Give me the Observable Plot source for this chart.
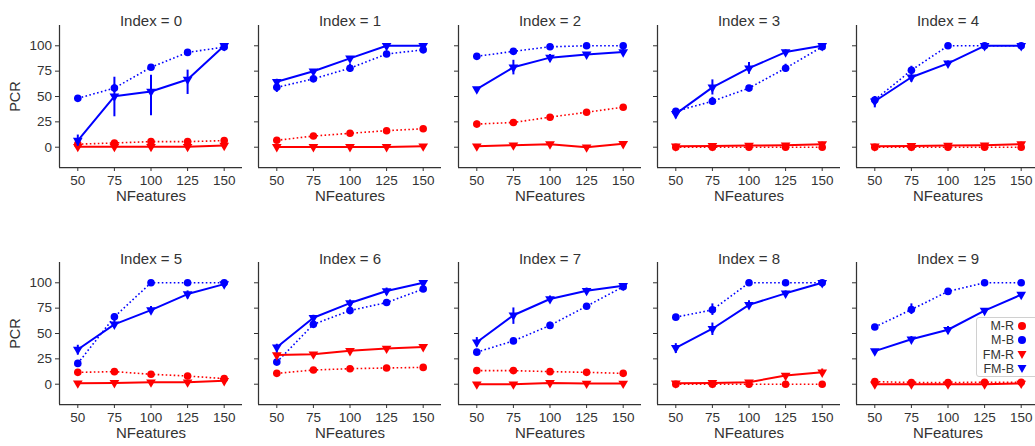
<!DOCTYPE html>
<html>
<head>
<meta charset="utf-8">
<script src="https://cdn.jsdelivr.net/npm/d3@7"></script>
<script src="https://cdn.jsdelivr.net/npm/@observablehq/plot@0.6"></script>
<style>
  html, body { margin: 0; padding: 0; background: white; }
  #chart { position: relative; width: 1035px; height: 446px; overflow: hidden; font-family: "Liberation Sans", Arial, sans-serif; }
  #chart svg { position: absolute; overflow: visible; }
  .legend { position: absolute; left: 976px; top: 317px; width: 70px; height: 60px; border: 1px solid #d0d0d0; border-radius: 3px; background: rgba(255,255,255,0.85); box-sizing: border-box; padding-top: 0.5px; }
  .legend .row { display: flex; align-items: center; height: 14.5px; }
  .legend .lab { width: 37px; text-align: right; font-size: 12.5px; line-height: 14.5px; color: #333; }
  .legend svg { position: static !important; margin-left: 3px; }
</style>
</head>
<body>
<div id="chart"></div>
<script>
const nfeatures = [50, 75, 100, 125, 150];
const panelIndex = [0, 1, 2, 3, 4, 5, 6, 7, 8, 9];
const seriesLabels = ["M-R", "M-B", "FM-R", "FM-B"];
const yTicks = [0, 25, 50, 75, 100];

const mR = [
  [3, 4.2, 5.5, 5.5, 6.5],
  [6.8, 11, 13.7, 16.3, 18.2],
  [22.8, 24.4, 29.6, 34.5, 39.4],
  [0, 0, 0, 0, 0],
  [0, 0, 0, 0, 0],
  [11.7, 12.4, 9.8, 8.1, 5.5],
  [10.7, 14, 15.3, 16, 16.6],
  [13.4, 13.4, 12.4, 11.7, 10.7],
  [0, 0, 0, 0, 0],
  [2.6, 1.6, 1.6, 2, 2]
];
const mB = [
  [48.2, 58.3, 78.8, 93.5, 98.7],
  [59, 67.4, 77.9, 91.9, 96],
  [89.6, 94.5, 99, 100, 100],
  [35.5, 45.3, 58.3, 77.9, 99],
  [46.6, 75.9, 100, 100, 100],
  [20.5, 66.4, 100, 100, 100],
  [21.8, 59, 72.6, 80.5, 93.8],
  [31.6, 42.7, 58, 76.9, 96.1],
  [66.1, 73.3, 100, 100, 100],
  [56.4, 73.6, 91.5, 100, 100]
];
const fmR = [
  [0.5, 0.5, 0.5, 0.5, 1.6],
  [0.3, 0.3, 0.3, 0.3, 1],
  [1, 2, 3, 0, 3.3],
  [1, 1.3, 1.6, 2, 3],
  [1, 1.3, 1.6, 2, 3],
  [1, 1.3, 2, 2, 3.3],
  [28.7, 29.6, 32.9, 35.2, 36.8],
  [0, 0, 1.3, 0.7, 0.7],
  [1, 1.3, 2, 8.5, 11.7],
  [0, 0, 0, 0, 0.7]
];
const fmB = [
  [6.5, 50.2, 55, 66.8, 100],
  [64.5, 74.9, 87.6, 100, 100],
  [57.3, 78.8, 88.3, 91.5, 93.8],
  [32.9, 59, 77.9, 93.8, 100],
  [45.3, 69, 82.7, 100, 100],
  [34.2, 59, 73, 88.9, 98.7],
  [36.5, 65.5, 80, 91.9, 100],
  [41.4, 68, 84, 92.2, 97.1],
  [35.8, 54.7, 78.2, 89.6, 100],
  [32.6, 44.3, 53.7, 72.6, 88.3]
];
// error bars: [panel, series, nfeatures, low, high]
const errorBars = [
  [0, "FM-B", 50, 1, 12], [0, "FM-B", 75, 30, 69], [0, "FM-B", 100, 31, 71], [0, "FM-B", 125, 52, 76], [0, "FM-B", 150, 98, 100],
  [0, "M-B", 75, 54, 62], [0, "FM-R", 150, 0, 3],
  [1, "M-B", 50, 54, 62], [1, "M-B", 100, 73.6, 82], [1, "FM-B", 50, 61, 67], [1, "M-B", 150, 94, 98],
  [1, "M-R", 50, 3.6, 9.4], [1, "M-R", 100, 10.7, 16.3],
  [2, "FM-B", 75, 71.3, 85.7], [2, "FM-B", 100, 83.7, 91.5], [2, "FM-B", 150, 90.5, 97],
  [2, "M-R", 50, 19.5, 25.7], [2, "FM-R", 150, 1, 5],
  [3, "FM-B", 50, 28, 37.8], [3, "FM-B", 75, 51.5, 66.4], [3, "FM-B", 100, 72, 83.4], [3, "FM-B", 125, 92, 96],
  [3, "M-B", 50, 33, 38], [3, "M-B", 75, 41.4, 49.2], [3, "M-B", 125, 74, 81.8], [3, "FM-R", 150, 0, 5],
  [4, "FM-B", 50, 38.8, 50], [4, "FM-B", 75, 64, 73], [4, "FM-B", 100, 78.5, 85],
  [4, "M-B", 75, 72, 79.8], [4, "FM-R", 150, 0, 5],
  [5, "M-B", 75, 63.5, 69.4], [5, "FM-B", 50, 28.7, 38.4], [5, "FM-B", 75, 55.7, 62.9], [5, "FM-B", 100, 68.7, 76.5],
  [5, "FM-B", 125, 84, 92], [5, "FM-B", 150, 97, 100], [5, "FM-R", 50, 0, 2], [5, "FM-R", 125, 0, 4], [5, "FM-R", 150, 0, 5],
  [6, "FM-B", 50, 31, 39.4], [6, "FM-B", 75, 61, 68], [6, "FM-B", 100, 76.5, 83], [6, "FM-B", 125, 88, 94.8],
  [6, "FM-R", 50, 26, 31],
  [7, "FM-B", 50, 36.8, 46], [7, "FM-B", 75, 59, 75.2], [7, "FM-B", 100, 80.5, 87], [7, "FM-B", 125, 89, 94.8],
  [7, "M-B", 100, 54.7, 61.2],
  [8, "M-B", 75, 67.8, 79.2], [8, "FM-B", 50, 30.3, 40], [8, "FM-B", 75, 48, 60.3], [8, "FM-B", 100, 74.3, 82.4],
  [8, "FM-B", 125, 87, 92], [8, "FM-R", 125, 6, 10], [8, "FM-R", 150, 9, 15],
  [9, "M-B", 75, 68.7, 79.2], [9, "FM-B", 75, 41, 47], [9, "FM-B", 100, 49, 57]
];

const seriesValues = {"M-R": mR, "M-B": mB, "FM-R": fmR, "FM-B": fmB};
const seriesColor = {"M-R": "#ff0000", "M-B": "#0000ff", "FM-R": "#ff0000", "FM-B": "#0000ff"};
const seriesDotted = {"M-R": true, "M-B": true, "FM-R": false, "FM-B": false};
const seriesSymbol = {"M-R": "circle", "M-B": "circle", "FM-R": "triangle", "FM-B": "triangle"};

const chart = document.getElementById("chart");
const frameW = 183, frameH = 142;
const ML = 60, MR = 12, MT = 28, MB = 48;
const colX = [59, 258.3, 457.5, 656.7, 855.9];
const rowY = [25, 261.7];
const font = "'Liberation Sans', Arial, sans-serif";
const ink = "#333333";

panelIndex.forEach(p => {
  const col = p % 5, row = Math.floor(p / 5);
  const marks = [];
  marks.push(Plot.ruleX([37.5], {stroke: ink, strokeWidth: 1.25}));
  marks.push(Plot.ruleY([-20], {stroke: ink, strokeWidth: 1.25}));
  marks.push(Plot.axisX({ticks: nfeatures, tickSize: 4, tickPadding: 3.5, label: null, fontSize: 13.5, color: ink, tickFormat: d => String(d)}));
  marks.push(Plot.axisY({ticks: yTicks, tickSize: 4, tickPadding: 3.5, label: null, fontSize: 13.5, color: ink,
    tickFormat: col === 0 ? (d => String(d)) : (() => "")}));
  marks.push(Plot.text(["NFeatures"], {frameAnchor: "bottom", dy: 33, fontSize: 15, fill: ink}));
  marks.push(Plot.text(["Index = " + p], {frameAnchor: "top", dy: row === 0 ? -10 : -9, fontSize: 15, fill: ink}));
  if (col === 0) {
    marks.push(Plot.text(["PCR"], {frameAnchor: "left", textAnchor: "middle", dx: -44, rotate: -90, fontSize: 14.5, fill: ink}));
  }
  seriesLabels.forEach(s => {
    const vals = seriesValues[s][p];
    const data = nfeatures.map((x, i) => ({x, y: vals[i]}));
    const c = seriesColor[s];
    marks.push(Plot.line(data, {x: "x", y: "y", stroke: c, strokeWidth: seriesDotted[s] ? 1.6 : 2,
      strokeDasharray: seriesDotted[s] ? "1.6,2.4" : null, strokeLinecap: "butt"}));
    const eb = errorBars.filter(e => e[0] === p && e[1] === s).map(e => ({x: e[2], lo: e[3], hi: e[4]}));
    marks.push(Plot.ruleX(eb, {x: "x", y1: "lo", y2: "hi", stroke: c, strokeWidth: 2}));
    if (seriesSymbol[s] === "circle") {
      marks.push(Plot.dot(data, {x: "x", y: "y", r: 3.8, fill: c, stroke: "none", symbol: "circle"}));
    } else {
      marks.push(Plot.dot(data, {x: "x", y: "y", r: 3.6, fill: c, stroke: "none", symbol: "triangle", rotate: 180}));
    }
  });
  const svg = Plot.plot({
    width: ML + frameW + MR,
    height: MT + frameH + MB,
    marginLeft: ML, marginRight: MR, marginTop: MT, marginBottom: MB,
    x: {domain: [37.5, 162.5]},
    y: {domain: [-20, 120]},
    style: {background: "transparent", fontFamily: font, fontSize: "13.5px", color: ink, overflow: "visible"},
    marks
  });
  svg.style.left = (colX[col] - ML) + "px";
  svg.style.top = (rowY[row] - MT) + "px";
  chart.appendChild(svg);
});

// legend
const legend = document.createElement("div");
legend.className = "legend";
seriesLabels.forEach(s => {
  const rowEl = document.createElement("div");
  rowEl.className = "row";
  const lab = document.createElement("span");
  lab.className = "lab";
  lab.textContent = s;
  rowEl.appendChild(lab);
  const ns = "http://www.w3.org/2000/svg";
  const m = document.createElementNS(ns, "svg");
  m.setAttribute("width", 10); m.setAttribute("height", 10);
  if (seriesSymbol[s] === "circle") {
    const c = document.createElementNS(ns, "circle");
    c.setAttribute("cx", 5); c.setAttribute("cy", 5); c.setAttribute("r", 4);
    c.setAttribute("fill", seriesColor[s]);
    m.appendChild(c);
  } else {
    const t = document.createElementNS(ns, "path");
    t.setAttribute("d", "M0.5,1 L9.5,1 L5,9 Z");
    t.setAttribute("fill", seriesColor[s]);
    m.appendChild(t);
  }
  rowEl.appendChild(m);
  legend.appendChild(rowEl);
});
chart.appendChild(legend);
</script>
</body>
</html>
